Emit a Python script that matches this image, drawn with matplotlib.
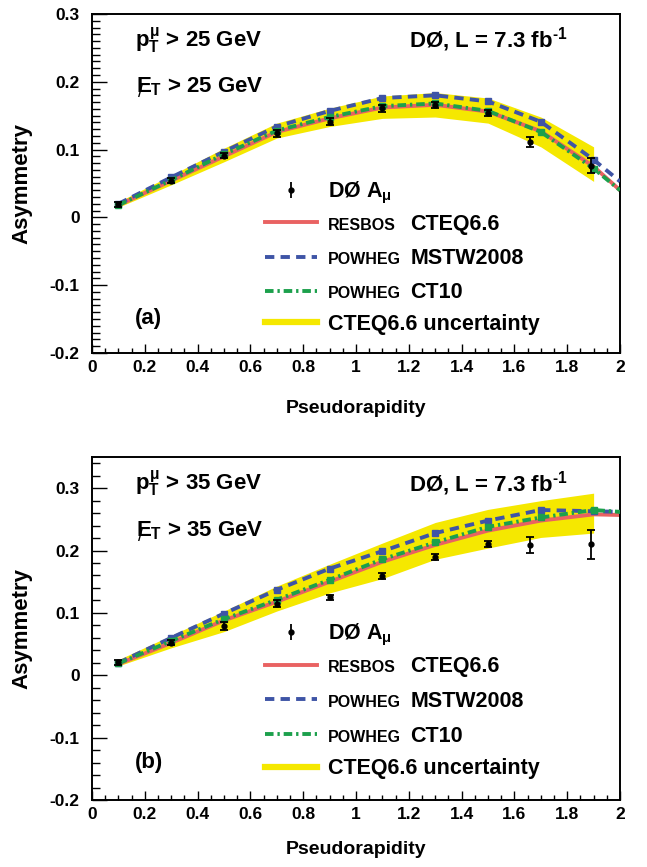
import matplotlib
matplotlib.use("Agg")
import matplotlib.pyplot as plt
from matplotlib.ticker import MultipleLocator, FuncFormatter

plt.rcParams['font.family'] = ['Liberation Sans', 'DejaVu Sans']
plt.rcParams['font.weight'] = 'bold'
plt.rcParams['mathtext.fontset'] = 'custom'
plt.rcParams['mathtext.rm'] = 'Liberation Sans:bold'
plt.rcParams['mathtext.it'] = 'Liberation Sans:bold'
plt.rcParams['mathtext.bf'] = 'Liberation Sans:bold'

# pseudorapidity nodes
eta_th = [0.1, 0.3, 0.5, 0.7, 0.9, 1.1, 1.3, 1.5, 1.7, 1.9, 2.0]
eta_band = [0.1, 0.3, 0.5, 0.7, 0.9, 1.1, 1.3, 1.5, 1.7, 1.9]
eta_data = [0.1, 0.3, 0.5, 0.7, 0.9, 1.1, 1.3, 1.5, 1.66, 1.89]

# (a) pT, MET > 25 GeV
a_data = [0.019, 0.054, 0.091, 0.124, 0.141, 0.161, 0.166, 0.154, 0.111, 0.076]
a_err = [0.004, 0.004, 0.004, 0.005, 0.005, 0.005, 0.004, 0.005, 0.0075, 0.011]
a_resbos = [0.018, 0.054, 0.090, 0.126, 0.146, 0.162, 0.166, 0.156, 0.127, 0.075, 0.040]
a_mstw = [0.020, 0.059, 0.097, 0.134, 0.157, 0.176, 0.180, 0.171, 0.141, 0.085, 0.053]
a_ct10 = [0.018, 0.055, 0.093, 0.128, 0.148, 0.164, 0.168, 0.157, 0.126, 0.072, 0.040]
a_lo = [0.015, 0.048, 0.082, 0.117, 0.134, 0.146, 0.148, 0.139, 0.104, 0.053]
a_hi = [0.023, 0.062, 0.102, 0.139, 0.161, 0.179, 0.184, 0.176, 0.148, 0.104]

# (b) pT, MET > 35 GeV
b_data = [0.021, 0.052, 0.079, 0.115, 0.125, 0.159, 0.190, 0.210, 0.209, 0.210]
b_err = [0.004, 0.004, 0.0065, 0.005, 0.004, 0.005, 0.005, 0.005, 0.013, 0.023]
b_resbos = [0.018, 0.052, 0.088, 0.118, 0.150, 0.182, 0.209, 0.232, 0.248, 0.258, 0.257]
b_mstw = [0.020, 0.060, 0.099, 0.137, 0.171, 0.199, 0.228, 0.248, 0.265, 0.263, 0.262]
b_ct10 = [0.019, 0.055, 0.090, 0.121, 0.153, 0.186, 0.213, 0.238, 0.253, 0.265, 0.262]
b_lo = [0.015, 0.044, 0.070, 0.103, 0.132, 0.155, 0.186, 0.204, 0.221, 0.228]
b_hi = [0.025, 0.064, 0.103, 0.143, 0.178, 0.212, 0.245, 0.266, 0.280, 0.292]

RED = '#e96262'
BLUE = '#3e54a6'
GREEN = '#1ca04c'
YELLOW = '#f5e800'

fmt = FuncFormatter(lambda v, pos: '%g' % round(v, 3))


def draw_panel(ax, data, err, resbos, mstw, ct10, lo, hi, cut, tag, ymax, yminor, leg_y):
    ax.fill_between(eta_band, lo, hi, color=YELLOW, lw=0, zorder=1)
    ax.plot(eta_th, resbos, color=RED, lw=2.8, zorder=2)
    ax.plot(eta_th, mstw, color=BLUE, lw=2.8, ls=(0, (2.4, 1.6)),
            marker='s', ms=4.5, markevery=slice(0, 10), zorder=3)
    ax.plot(eta_th, ct10, color=GREEN, lw=2.8, ls=(0, (2.2, 1.0, 0.6, 1.0)),
            marker='s', ms=4.5, markevery=slice(0, 10), zorder=4)
    ax.errorbar(eta_data, data, yerr=err, fmt='o', color='black', ms=3.5,
                elinewidth=1.3, capsize=3, capthick=1.3, zorder=5)

    ax.set_xlim(0, 2)
    ax.set_ylim(-0.2, ymax)
    ax.xaxis.set_major_locator(MultipleLocator(0.2))
    ax.xaxis.set_minor_locator(MultipleLocator(0.05))
    ax.yaxis.set_major_locator(MultipleLocator(0.1))
    ax.yaxis.set_minor_locator(MultipleLocator(yminor))
    ax.xaxis.set_major_formatter(fmt)
    ax.yaxis.set_major_formatter(fmt)
    ax.tick_params(which='both', direction='in', top=False, right=False, labelsize=12.5)
    ax.tick_params(axis='y', which='major', length=11, width=1, pad=9)
    ax.tick_params(axis='y', which='minor', length=5.5, width=1)
    ax.tick_params(axis='x', which='major', length=6.5, width=1, pad=5)
    ax.tick_params(axis='x', which='minor', length=3.5, width=1)
    for s in ax.spines.values():
        s.set_linewidth(1.4)

    ax.set_xlabel('Pseudorapidity', fontsize=14, fontweight='bold')
    ax.set_ylabel('Asymmetry', fontsize=16, fontweight='bold')

    tr = ax.transAxes
    ax.text(0.081, 0.902, r'$p_T^{\mu}$ > %d GeV' % cut, transform=tr, fontsize=16)
    ax.text(0.084, 0.768, r'$E_T$ > %d GeV' % cut, transform=tr, fontsize=16)
    # slash through the E (missing transverse energy)
    ax.text(0.0875, 0.756, '/', transform=tr, fontsize=13, fontweight='normal')
    ax.text(0.600, 0.902, 'DØ, L = 7.3 fb$^{\u20101}$', transform=tr, fontsize=16)
    ax.text(0.081, leg_y[4] - 0.005, '(%s)' % tag, transform=tr, fontsize=16)

    # legend
    x0, x1, xt, xb = 0.328, 0.426, 0.447, 0.603
    dy = 0.022
    ax.errorbar([0.377], [leg_y[0]], yerr=[0.024], fmt='o', color='black', ms=3.5,
                elinewidth=1.3, transform=tr, clip_on=False)
    ax.text(xt, leg_y[0] - dy, r'DØ $A_{\mu}$', transform=tr, fontsize=15.5)
    ax.plot([x0, x1], [leg_y[1]] * 2, color=RED, lw=2.8, transform=tr)
    ax.plot([x0, x1], [leg_y[2]] * 2, color=BLUE, lw=2.8, ls=(0, (2.4, 1.6)), transform=tr)
    ax.plot([x0, x1], [leg_y[3]] * 2, color=GREEN, lw=2.8, ls=(0, (2.2, 1.0, 0.6, 1.0)), transform=tr)
    ax.plot([x0, x1], [leg_y[4]] * 2, color=YELLOW, lw=4.5, transform=tr)
    for y, small, big in zip(leg_y[1:4], ['RESBOS', 'POWHEG', 'POWHEG'],
                             ['CTEQ6.6', 'MSTW2008', 'CT10']):
        ax.text(xt, y - dy, small, transform=tr, fontsize=11.5)
        ax.text(xb, y - dy, big, transform=tr, fontsize=15.5)
    ax.text(xt, leg_y[4] - dy, 'CTEQ6.6 uncertainty', transform=tr, fontsize=15.5)


fig = plt.figure(figsize=(6.47, 8.67), dpi=100)
ax1 = fig.add_axes([0.1422, 0.5929, 0.8161, 0.3910])
ax2 = fig.add_axes([0.1422, 0.0773, 0.8161, 0.3956])

draw_panel(ax1, a_data, a_err, a_resbos, a_mstw, a_ct10, a_lo, a_hi, 25, 'a', 0.3, 0.01,
           [0.481, 0.386, 0.283, 0.184, 0.091])
draw_panel(ax2, b_data, b_err, b_resbos, b_mstw, b_ct10, b_lo, b_hi, 35, 'b', 0.35, 0.02,
           [0.490, 0.394, 0.294, 0.192, 0.097])

ax1.xaxis.set_label_coords(0.5, -0.14)
ax2.xaxis.set_label_coords(0.5, -0.12)
ax1.yaxis.set_label_coords(-0.112, 0.5)
ax2.yaxis.set_label_coords(-0.112, 0.5)

fig.savefig('out.png', dpi=100)
